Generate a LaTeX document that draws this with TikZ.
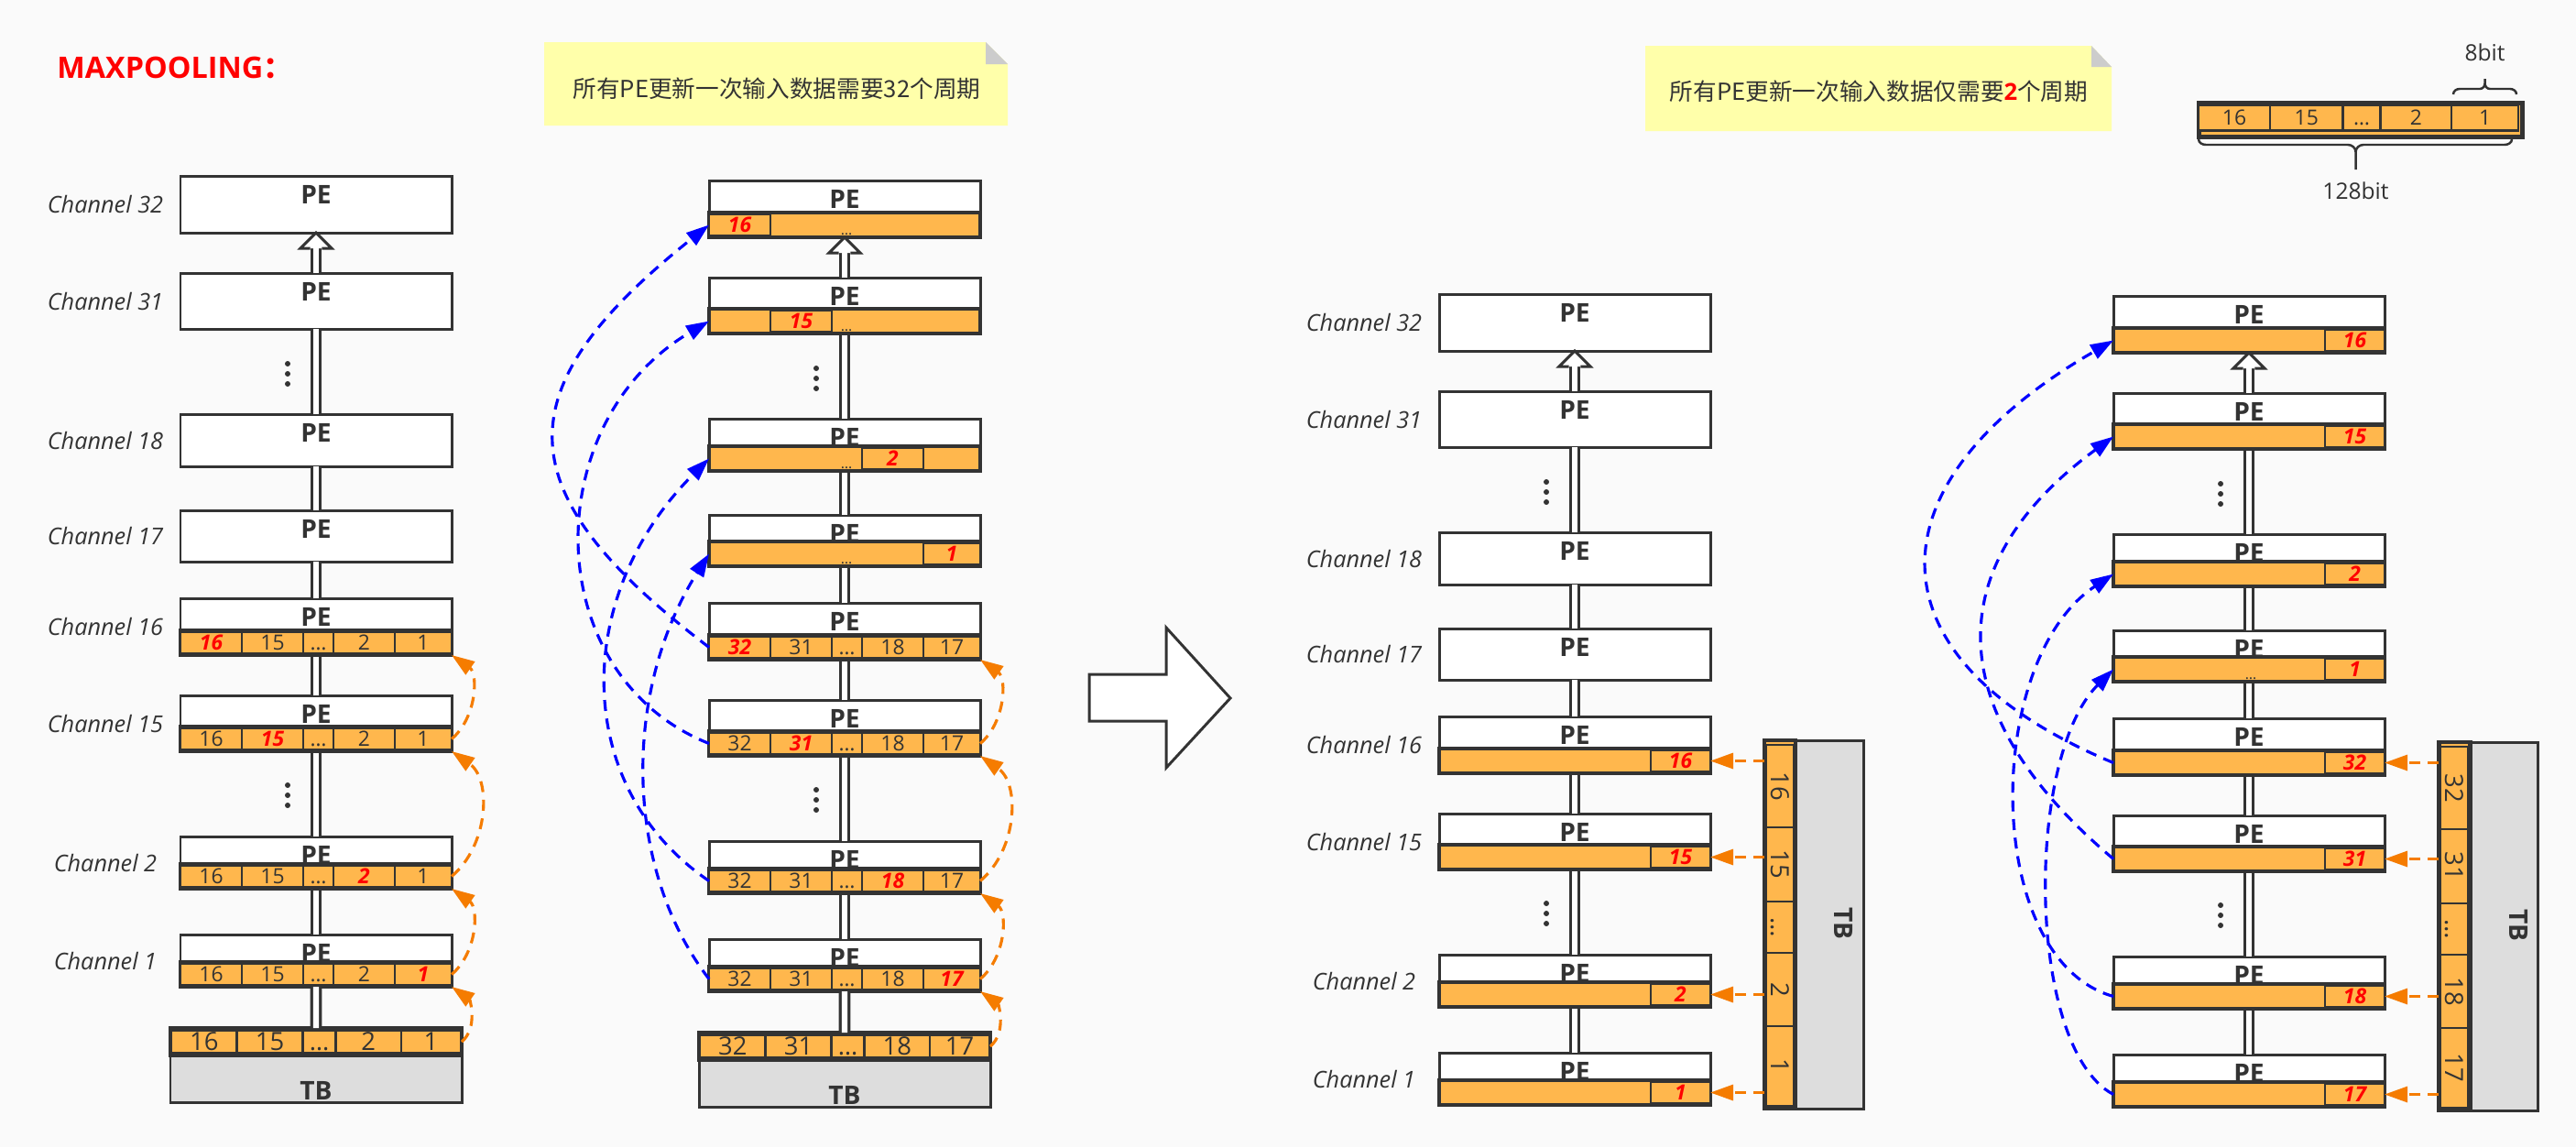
\documentclass[tikz,border=0pt]{standalone}
\usepackage{fontspec}
\setmainfont{Open Sans}
\newfontfamily\cjk{Noto Sans CJK SC}
\usetikzlibrary{arrows.meta,calc}

\definecolor{paper}{HTML}{FAFAFA}
\definecolor{ink}{HTML}{333333}
\definecolor{barfill}{HTML}{FFB74D}
\definecolor{tbgray}{HTML}{DDDDDD}
\definecolor{flow}{HTML}{F57C00}
\definecolor{notefill}{HTML}{FFFFAA}
\definecolor{fold}{HTML}{CCCCCC}

% index/top/height/channel of the eight PE rows
\def\rows{1/0/0.62/32,2/1.06/0.61/31,3/2.60/0.57/18,4/3.65/0.56/17,5/4.61/0.62/16,6/5.67/0.61/15,7/7.21/0.57/2,8/8.28/0.57/1}

\tikzset{
  pebox/.style={draw=ink, fill=white, line width=0.85pt, minimum width=2.96cm, inner sep=0pt, outer sep=0pt, anchor=north west},
  petext/.style={text=ink, font=\fontsize{8}{9}\selectfont\bfseries},
  chlabel/.style={text=ink, font=\fontsize{7.2}{8}\selectfont\itshape},
  pestrip/.style={draw=ink, fill=barfill, line width=1pt, minimum width=2.96cm, minimum height=0.27cm, inner sep=0pt, outer sep=0pt, anchor=south west},
  cellbox/.style={draw=ink, fill=barfill, line width=0.6pt, minimum height=0.24cm, inner sep=0pt, outer sep=0pt, text height=4.6pt, text depth=0pt, text=ink, font=\fontsize{6.5}{7}\selectfont},
  hotnum/.style={text=red, font=\fontsize{6.5}{7}\selectfont\bfseries\itshape},
  tbbox/.style={draw=ink, fill=tbgray, line width=0.85pt, inner sep=0pt, outer sep=0pt, anchor=north west},
  tbstrip/.style={draw=ink, fill=barfill, line width=1.4pt, inner sep=0pt, outer sep=0pt, anchor=north west},
  tbnum/.style={text height=5.6pt, text depth=0pt, font=\fontsize{7.8}{8}\selectfont},
  link/.style={draw=ink, line width=0.9pt, double=white, double distance=1.8pt},
  hollow/.style={draw=ink, fill=white, line width=0.85pt},
  dashes/.style={dash pattern=on 3.4pt off 2.4pt, line width=0.9pt},
  flowarrow/.style={dashes, draw=flow, -{Triangle[length=0.25cm, width=0.17cm]}},
  feed/.style={dashes, draw=blue, -{Triangle[length=0.25cm, width=0.17cm]}},
  notetext/.style={text=ink, font=\fontsize{7.3}{8}\selectfont},
  tinydots/.style={text=ink, font=\fontsize{4.5}{5}\selectfont, inner sep=0pt, anchor=south},
  keytext/.style={text=ink, font=\fontsize{7}{8}\selectfont},
}

% the stack of eight PEs with its double link
\newcommand\pestack[1]{%
  \foreach \r/\tp/\h/\ch in \rows {
    \node[pebox, minimum height=\h cm] (#1r\r) at (0,-\tp) {};
    \node[petext] (#1p\r) at ($(#1r\r.north)+(0,-0.2)$) {PE};
  }
  \foreach \a/\b in {8/7,7/6,6/5,5/4,4/3,3/2}
    \draw[link] (#1r\a.north) -- (#1r\b.south);
  \draw[link] (#1r2.north) -- ($(#1r1.south)+(0,-0.17)$);
  \path[hollow] ($(#1r1.south)+(-0.063,-0.17)$) -- ++(-0.107,0) -- (#1r1.south) -- ++(0.17,-0.17) -- ++(-0.107,0);
  \foreach \y in {2.16,6.76}
    \foreach \d in {-0.11,0,0.11}
      \fill[ink] (1.17,{-\y+\d}) circle (0.03);
}

\begin{document}
\begin{tikzpicture}[font=\fontsize{7}{8}\selectfont]
  \useasboundingbox (0,0) rectangle (28.12,-12.52);
  \fill[paper] (0,0) rectangle (28.12,-12.52);

  % headings and notes
  \node[anchor=west, text=red, font=\fontsize{9.2}{10}\selectfont\bfseries] (title) at (0.50,-0.735) {MAXPOOLING{\cjk ：}};
  \fill[notefill] (5.94,-0.46) -- (10.76,-0.46) -- (11.00,-0.70) -- (11.00,-1.37) -- (5.94,-1.37) -- cycle;
  \fill[fold] (10.76,-0.46) -- (11.00,-0.70) -- (10.76,-0.70) -- cycle;
  \node[notetext] (note1) at (8.48,-0.97) {\cjk 所有PE更新一次输入数据需要32个周期};
  \fill[notefill] (17.96,-0.50) -- (22.83,-0.50) -- (23.05,-0.73) -- (23.05,-1.43) -- (17.96,-1.43) -- cycle;
  \fill[fold] (22.83,-0.50) -- (23.05,-0.73) -- (22.83,-0.73) -- cycle;
  \node[notetext] (note2) at (20.51,-1.00) {\cjk 所有PE更新一次输入数据仅需要{\color{red}\rmfamily\bfseries 2}个周期};

  % 128 bit word
  \node[draw=ink, fill=barfill, line width=1.4pt, minimum width=3.53cm, minimum height=0.37cm, inner sep=0pt, anchor=north west] (key) at (23.98,-1.10) {};
  \foreach \i/\x/\w/\n in {1/24.00/0.78/16,2/24.78/0.795/15,3/25.575/0.41/{\ldots},4/25.985/0.775/2,5/26.76/0.73/1}
    \node[cellbox, minimum width=\w cm, minimum height=0.28cm] (key-\i) at ({\x+\w/2},-1.285) {\n};
  \draw[ink, line width=0.7pt] (26.78,-1.03) to[out=90,in=180] (26.85,-0.97) -- (27.07,-0.97) to[out=0,in=-90] (27.125,-0.91) -- (27.125,-0.86)
    (27.47,-1.03) to[out=90,in=0] (27.40,-0.97) -- (27.18,-0.97) to[out=180,in=-90] (27.125,-0.91);
  \draw[ink, line width=0.7pt] (24.00,-1.52) to[out=-90,in=180] (24.08,-1.58) -- (25.63,-1.58) to[out=0,in=90] (25.715,-1.66) -- (25.715,-1.85)
    (27.42,-1.52) to[out=-90,in=0] (27.34,-1.58) -- (25.80,-1.58) to[out=180,in=90] (25.715,-1.66);
  \node[keytext] (bit8) at (27.125,-0.57) {8bit};
  \node[keytext] (bit128) at (25.715,-2.08) {128bit};

  % column 1: data passed on channel by channel
  \begin{scope}[shift={(1.97,-1.92)}]
    \pestack{c1}
    \foreach \r/\tp/\h/\ch in \rows
      \node[chlabel] (c1l\r) at ($(c1r\r.west)+(-0.82,0)$) {Channel \ch};
    \foreach \r/\hot in {5/1,6/2,7/4,8/5} {
      \node[pestrip] (c1s\r) at (c1r\r.south west) {};
      \foreach \i/\x/\w/\n in {1/0/0.67/16,2/0.67/0.67/15,3/1.34/0.33/{\ldots},4/1.67/0.67/2,5/2.34/0.62/1} {
        \ifnum\i=\hot\relax\def\tone{red}\def\face{\bfseries\itshape}\else\def\tone{ink}\def\face{}\fi
        \node[cellbox, minimum width=\w cm, text=\tone, font=\fontsize{6.5}{7}\selectfont\face] (c1s\r-\i) at ($(c1s\r.west)+(\x+\w/2,0)$) {\n};
      }
    }
    \node[tbbox, minimum width=3.18cm, minimum height=0.51cm] (c1tbb) at (-0.11,-9.60) {};
    \node[tbstrip, minimum width=3.18cm, minimum height=0.30cm] (c1tb) at (-0.11,-9.30) {};
    \node[petext] (c1tbl) at (1.48,-9.98) {TB};
    \foreach \i/\x/\w/\n in {1/-0.10/0.715/16,2/0.615/0.72/15,3/1.335/0.36/{\ldots},4/1.695/0.715/2,5/2.41/0.65/1}
      \node[cellbox, tbnum, minimum width=\w cm, minimum height=0.25cm] (c1tb-\i) at ({\x+\w/2},-9.45) {\n};
    \draw[link] (c1tb.north) -- (c1r8.south);
    \draw[flowarrow] (c1tb.east) to[out=40,in=-35] (c1r8.south east);
    \foreach \a/\b in {8/7,7/6,6/5}
      \draw[flowarrow] (c1s\a.east) to[out=40,in=-35] (c1r\b.south east);
  \end{scope}

  % column 2
  \begin{scope}[shift={(7.74,-1.97)}]
    \pestack{c2}
    \foreach \r/\i/\x/\w/\n in {1/1/0/0.67/16,2/2/0.67/0.67/15,3/4/1.67/0.67/2,4/5/2.34/0.62/1} {
      \node[pestrip] (c2s\r) at (c2r\r.south west) {};
      \node[cellbox, hotnum, minimum width=\w cm] (c2s\r-\i) at ($(c2s\r.west)+(\x+\w/2,0)$) {\n};
      \node[tinydots] (c2d\r) at ($(c2s\r.south)+(0.02,0.01)$) {\ldots};
    }
    \foreach \r/\hot in {5/1,6/2,7/4,8/5} {
      \node[pestrip] (c2s\r) at (c2r\r.south west) {};
      \foreach \i/\x/\w/\n in {1/0/0.67/32,2/0.67/0.67/31,3/1.34/0.33/{\ldots},4/1.67/0.67/18,5/2.34/0.62/17} {
        \ifnum\i=\hot\relax\def\tone{red}\def\face{\bfseries\itshape}\else\def\tone{ink}\def\face{}\fi
        \node[cellbox, minimum width=\w cm, text=\tone, font=\fontsize{6.5}{7}\selectfont\face] (c2s\r-\i) at ($(c2s\r.west)+(\x+\w/2,0)$) {\n};
      }
    }
    \node[tbbox, minimum width=3.18cm, minimum height=0.51cm] (c2tbb) at (-0.11,-9.60) {};
    \node[tbstrip, minimum width=3.18cm, minimum height=0.30cm] (c2tb) at (-0.11,-9.30) {};
    \node[petext] (c2tbl) at (1.48,-9.98) {TB};
    \foreach \i/\x/\w/\n in {1/-0.10/0.715/32,2/0.615/0.72/31,3/1.335/0.36/{\ldots},4/1.695/0.715/18,5/2.41/0.65/17}
      \node[cellbox, tbnum, minimum width=\w cm, minimum height=0.25cm] (c2tb-\i) at ({\x+\w/2},-9.45) {\n};
    \draw[link] (c2tb.north) -- (c2r8.south);
    \draw[flowarrow] (c2tb.east) to[out=40,in=-35] (c2r8.south east);
    \foreach \a/\b in {8/7,7/6,6/5}
      \draw[flowarrow] (c2s\a.east) to[out=40,in=-35] (c2r\b.south east);
    \draw[feed] (c2s5.west) .. controls +(-2.24,1.70) and +(-2.26,-1.80) .. (c2s1.west);
    \draw[feed] (c2s6.west) .. controls +(-1.86,0.74) and +(-1.88,-1.11) .. (c2s2.west);
    \draw[feed] (c2s7.west) .. controls +(-1.49,1.01) and +(-1.51,-1.51) .. (c2s3.west);
    \draw[feed] (c2s8.west) .. controls +(-0.93,1.20) and +(-0.95,-1.50) .. (c2s4.west);
  \end{scope}

  % the big arrow
  \draw[hollow] (11.89,-7.36) -- (12.73,-7.36) -- (12.73,-6.85) -- (13.43,-7.62) -- (12.73,-8.38) -- (12.73,-7.87) -- (11.89,-7.87) -- cycle;

  % column 3: TB feeds all channels at once
  \begin{scope}[shift={(15.71,-3.21)}]
    \pestack{c3}
    \foreach \r/\tp/\h/\ch in \rows
      \node[chlabel] (c3l\r) at ($(c3r\r.west)+(-0.82,0)$) {Channel \ch};
    \foreach \r/\n in {5/16,6/15,7/2,8/1} {
      \node[pestrip] (c3s\r) at (c3r\r.south west) {};
      \node[cellbox, hotnum, minimum width=0.65cm] (c3s\r-5) at ($(c3s\r.east)+(-0.325,0)$) {\n};
    }
    \node[tbbox, minimum width=0.74cm, minimum height=4.02cm] (c3tbb) at (3.89,-4.87) {};
    \node[tbstrip, minimum width=0.34cm, minimum height=4.02cm] (c3tb) at (3.55,-4.87) {};
    \node[petext, rotate=-90] (c3tbl) at (4.42,-6.87) {TB};
    \foreach \i/\y/\g/\n in {1/4.92/0.90/16,2/5.82/0.81/15,3/6.63/0.56/{\ldots},4/7.19/0.80/2,5/7.99/0.87/1}
      \node[cellbox, tbnum, rotate=-90, minimum width=\g cm, minimum height=0.30cm] (c3tb-\i) at (3.72,{-\y-\g/2}) {\n};
    \foreach \r in {5,6,7,8}
      \draw[flowarrow] (c3tb.west |- c3s\r.east) -- (c3s\r.east);
  \end{scope}

  % column 4
  \begin{scope}[shift={(23.07,-3.23)}]
    \pestack{c4}
    \foreach \r/\n in {1/16,2/15,3/2,4/1,5/32,6/31,7/18,8/17} {
      \node[pestrip] (c4s\r) at (c4r\r.south west) {};
      \node[cellbox, hotnum, minimum width=0.65cm] (c4s\r-5) at ($(c4s\r.east)+(-0.325,0)$) {\n};
    }
    \node[tinydots] (c4d4) at ($(c4s4.south)+(0.02,0.01)$) {\ldots};
    \node[tbbox, minimum width=0.74cm, minimum height=4.02cm] (c4tbb) at (3.89,-4.87) {};
    \node[tbstrip, minimum width=0.34cm, minimum height=4.02cm] (c4tb) at (3.55,-4.87) {};
    \node[petext, rotate=-90] (c4tbl) at (4.42,-6.87) {TB};
    \foreach \i/\y/\g/\n in {1/4.92/0.90/32,2/5.82/0.81/31,3/6.63/0.56/{\ldots},4/7.19/0.80/18,5/7.99/0.87/17}
      \node[cellbox, tbnum, rotate=-90, minimum width=\g cm, minimum height=0.30cm] (c4tb-\i) at (3.72,{-\y-\g/2}) {\n};
    \foreach \r in {5,6,7,8}
      \draw[flowarrow] (c4tb.west |- c4s\r.east) -- (c4s\r.east);
    \draw[feed] (c4s5.west) .. controls +(-2.70,1.12) and +(-2.72,-1.57) .. (c4s1.west);
    \draw[feed] (c4s6.west) .. controls +(-1.89,1.59) and +(-1.91,-1.40) .. (c4s2.west);
    \draw[feed] (c4s7.west) .. controls +(-1.43,0.40) and +(-1.43,-0.95) .. (c4s3.west);
    \draw[feed] (c4s8.west) .. controls +(-0.95,0.50) and +(-0.97,-0.97) .. (c4s4.west);
  \end{scope}
\end{tikzpicture}
\end{document}
